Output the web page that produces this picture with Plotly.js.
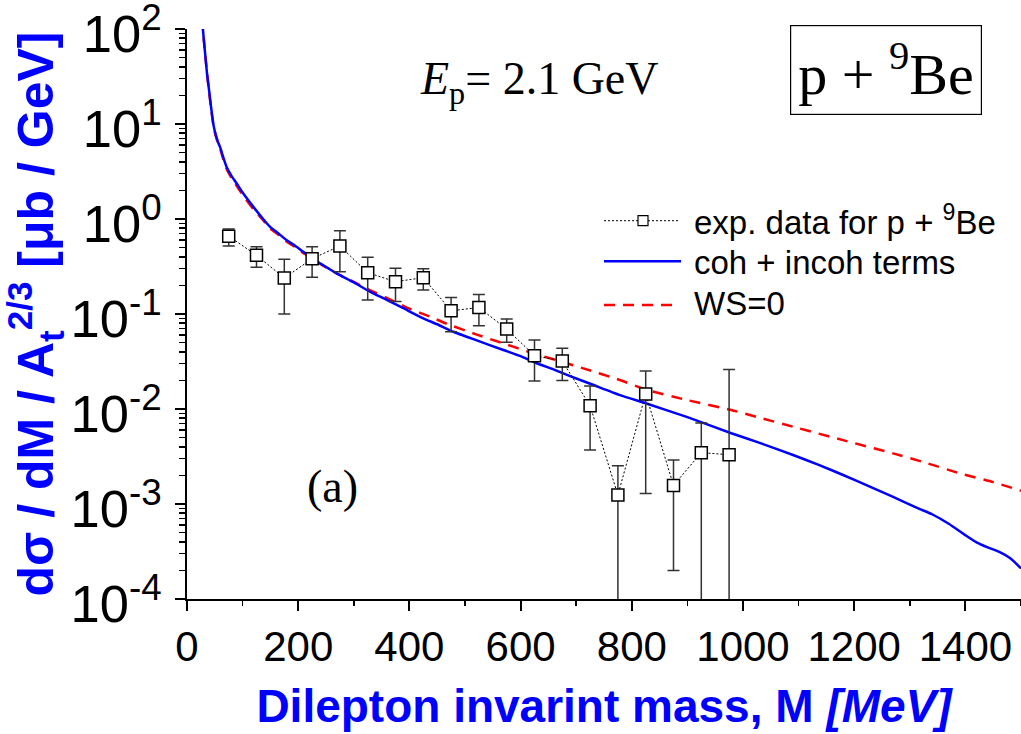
<!DOCTYPE html>
<html><head><meta charset="utf-8">
<script src="https://cdn.plot.ly/plotly-3.0.1.min.js"></script>
<style>html,body{margin:0;padding:0;background:#fff}</style>
</head><body><div id="chart" style="width:1021px;height:734px"></div>
<script>
// ---- data ----
const expM   = [75,125,175,225,275,325,375,425,475,525,575,625,675,725,775,825,875,925,975];
const expY   = [0.66,0.415,0.239,0.382,0.52,0.272,0.219,0.241,0.108,0.117,0.0695,0.0364,0.032,0.0108,0.00124,0.0144,0.00157,0.00347,0.0033];
const expHi  = [0.785,0.51,0.377,0.51,0.753,0.395,0.303,0.30,0.149,0.16,0.0886,0.0532,0.0435,0.0175,0.00253,0.0251,0.0029,0.00713,0.026];
const expLo  = [0.52,0.31,0.10,0.243,0.279,0.140,0.135,0.179,0.065,0.075,0.0504,0.0197,0.020,0.0037,0,0.00129,0.0002,0,0];

const cohM = [27,30,33,36,40,44,48,52,56,60,65,71,80,89,100,119,135,149,165,179,195,209,225,239,255,269,300,329,360,389,425,450,479,520,569,600,629,660,689,730,779,829,900,979,1030,1090,1135,1180,1225,1270,1315,1340,1370,1400,1420,1440,1460,1480,1490,1500];
const cohY = [130,80,52,34,22,14,9.5,7.6,6.4,5.6,4.5,3.55,2.85,2.38,1.9,1.35,1.03,0.83,0.70,0.60,0.52,0.453,0.39,0.342,0.30,0.268,0.215,0.172,0.14,0.115,0.090,0.078,0.065,0.053,0.0418,0.036,0.0303,0.026,0.0222,0.018,0.014,0.0113,0.0082,0.00555,0.0044,0.00328,0.0026,0.00202,0.00155,0.00119,0.0009,0.00078,0.00062,0.00047,0.000395,0.00035,0.000315,0.00027,0.00024,0.00021];

const wsM = [27,30,33,36,40,44,48,52,56,60,65,71,80,89,100,119,135,149,165,179,195,209,225,239,255,269,300,329,360,389,401,437,467,520,569,620,670,720,773,829,900,979,1030,1090,1180,1270,1330,1390,1450,1500];
const wsY = [130,80,52,34,21,13.5,9.2,7.4,6.2,5.4,4.3,3.4,2.7,2.25,1.8,1.28,1.0,0.80,0.68,0.58,0.505,0.44,0.385,0.338,0.298,0.268,0.218,0.178,0.147,0.122,0.113,0.094,0.079,0.061,0.049,0.039,0.032,0.026,0.0207,0.0158,0.0124,0.00976,0.0081,0.00651,0.0047,0.00341,0.0027,0.0021,0.0017,0.00138];

// decade exponents and the tick labels wanted for them
const yTickExp  = [-4,-3,-2,-1,0,1,2];
const yTickText = ['10<sup>-4</sup>','10<sup>-3</sup>','10<sup>-2</sup>','10<sup>-1</sup>','10<sup>0</sup>','10<sup>1</sup>','10<sup>2</sup>'];
const legendNames = ['exp. data for p + <sup>9</sup>Be','coh + incoh terms','WS=0'];

// map Plotly's default log labels onto the wanted ones
const plotlyLogLabel = p => p === 0 ? '1' : p === 1 ? '10' :
  '10<sup>' + (p > 1 ? '' : '\u2212') + Math.abs(p) + '</sup>';
const yAlias = {};
yTickExp.forEach((p, i) => { yAlias[plotlyLogLabel(p)] = yTickText[i]; });

// ---- layout helpers (pixel -> paper) ----
const L = 187, R = 1021, T = 29, B = 599;
const px = v => (v - L) / (R - L);
const py = v => (B - v) / (B - T);

const traces = [
  {x: wsM, y: wsY, mode: 'lines', name: legendNames[2],
   line: {color: '#ff0000', width: 2.5, dash: '11px,8px', shape: 'spline', smoothing: 0.5}},
  {x: cohM, y: cohY, mode: 'lines', name: legendNames[1],
   line: {color: '#0000ff', width: 2.5, shape: 'spline', smoothing: 0.5}},
  {x: expM, y: expY, mode: 'lines+markers', name: legendNames[0],
   line: {color: '#000', width: 1, dash: '2px,2px'},
   marker: {symbol: 'square', size: 12, color: '#fff', line: {color: '#000', width: 1.5}},
   error_y: {type: 'data', symmetric: false,
     array: expHi.map((h, i) => h - expY[i]),
     arrayminus: expLo.map((l, i) => expY[i] - l),
     color: '#333', thickness: 1.5, width: 6}}
];

const serif = 'Liberation Serif, Times New Roman, serif';
const sans = 'Liberation Sans, Arial, sans-serif';

const annotations = [
  {xref: 'paper', yref: 'paper', x: px(539), y: py(82), text: '<i>E</i><sub>p</sub>= 2.1 GeV', showarrow: false,
   font: {family: serif, size: 46, color: '#000'}, xanchor: 'center', yanchor: 'middle'},
  {xref: 'paper', yref: 'paper', x: px(886), y: py(70), text: 'p + <sup>9</sup>Be', showarrow: false,
   font: {family: serif, size: 58, color: '#000'}, xanchor: 'center', yanchor: 'middle',
   bordercolor: '#000', borderwidth: 1.2, borderpad: 7, bgcolor: '#fff'},
  {xref: 'paper', yref: 'paper', x: px(332), y: py(486), text: '(a)', showarrow: false,
   font: {family: serif, size: 46, color: '#000'}, xanchor: 'center', yanchor: 'middle'},
  {xref: 'paper', yref: 'paper', x: px(692), y: py(220), text: legendNames[0], showarrow: false,
   font: {family: sans, size: 33, color: '#000'}, xanchor: 'left', yanchor: 'middle'},
  {xref: 'paper', yref: 'paper', x: px(692), y: py(262), text: legendNames[1], showarrow: false,
   font: {family: sans, size: 33, color: '#000'}, xanchor: 'left', yanchor: 'middle'},
  {xref: 'paper', yref: 'paper', x: px(692), y: py(303), text: legendNames[2], showarrow: false,
   font: {family: sans, size: 33, color: '#000'}, xanchor: 'left', yanchor: 'middle'}
];

const shapes = [
  {type: 'line', xref: 'paper', yref: 'paper', x0: px(604), x1: px(678), y0: py(220.7), y1: py(220.7),
   line: {color: '#000', width: 1, dash: '2px,2px'}},
  {type: 'rect', xref: 'paper', yref: 'paper', x0: px(638), x1: px(648), y0: py(215.7), y1: py(225.7),
   fillcolor: '#fff', line: {color: '#000', width: 1.2}},
  {type: 'line', xref: 'paper', yref: 'paper', x0: px(604), x1: px(681), y0: py(261.3), y1: py(261.3),
   line: {color: '#0000ff', width: 2.5}},
  {type: 'line', xref: 'paper', yref: 'paper', x0: px(604), x1: px(674), y0: py(305), y1: py(305),
   line: {color: '#ff0000', width: 2.5, dash: '11px,8px'}}
];

const layout = {
  width: 1021, height: 734,
  margin: {l: L, r: 1021 - R, t: T, b: 734 - B, pad: 0},
  paper_bgcolor: '#fff', plot_bgcolor: '#fff',
  showlegend: false,
  font: {family: sans, color: '#000'},
  xaxis: {
    range: [0, 1500], showgrid: false, zeroline: false,
    showline: true, linecolor: '#000', linewidth: 2,
    ticks: 'outside', ticklen: 10, tickwidth: 2, tickcolor: '#000',
    dtick: 200, tick0: 0,
    minor: {ticks: 'outside', ticklen: 5, tickwidth: 1.5, tickcolor: '#000', dtick: 100, showgrid: false},
    tickfont: {family: sans, size: 42, color: '#000'},
    title: {text: 'Dilepton invarint mass, M <i>[MeV]</i>', standoff: 20,
            font: {family: sans, size: 46, color: '#0000ff', weight: 'bold'}}
  },
  yaxis: {
    type: 'log', range: [-4, 2], showgrid: false, zeroline: false,
    showline: true, linecolor: '#000', linewidth: 2,
    ticks: 'outside', ticklen: 10, tickwidth: 2, tickcolor: '#000',
    tickmode: 'linear', tick0: 0, dtick: 1, exponentformat: 'power',
    labelalias: yAlias,
    minor: {ticks: 'outside', ticklen: 6, tickwidth: 1.5, tickcolor: '#000', dtick: 'D1', showgrid: false},
    ticklabeloverflow: 'allow',
    tickfont: {family: sans, size: 42, color: '#000'},
    ticklabelstandoff: 5,
    ticklabelshift: 5,
    title: {text: 'dσ / dM / A<sub>t</sub><sup>2/3</sup> [μb / GeV]', standoff: 32,
            font: {family: sans, size: 50, color: '#0000ff', weight: 'bold'}}
  },
  annotations: annotations,
  shapes: shapes
};

Plotly.newPlot('chart', traces, layout, {displayModeBar: false, staticPlot: true});
</script>
</body></html>
